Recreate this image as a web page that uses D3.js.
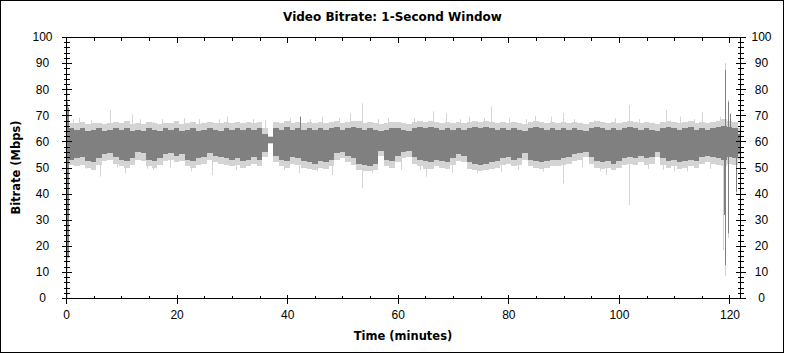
<!DOCTYPE html>
<html>
<head>
<meta charset="utf-8">
<script src="https://cdn.jsdelivr.net/npm/d3@7"></script>
<style>
  body { margin: 0; background: #fff; }
</style>
</head>
<body>
<svg id="chart" width="785" height="353"></svg>
<script>
// per-minute envelope of the 1-second bitrate trace (Mbps), index = minute
const darkHi = [66,65,64.5,65,64,64.5,65,64,64.5,65,64.5,65,64,64.5,64,65,64.5,64,65,64.5,
  65,64,64.5,65,64,64.5,65,64.5,64,65,64.5,65,64.5,65,64.5,65,63,61.5,65,64.5,
  65.5,64.5,65,64.5,65,64.5,65,64.5,65,65.5,64.5,65,65.5,65,64.5,65,64.5,64,64.5,65,
  65,64.5,64,65,65.5,65,65.5,65,64.5,65,64.5,65,64.5,65,65.5,65,65.5,65,64.5,65,
  64.5,65,64.5,64,65,65.5,65,64.5,65,64.5,65,64.5,65,64.5,64,65,65.5,65,64.5,65,
  64.5,65,65.5,65,64.5,65,64.5,64,65,65.5,65,64.5,65,65.5,64.5,65,64.5,65,65.5,66,
  65.5,65,63];
const darkLo = [55,53,53.5,54,52.5,52,53.5,55,55.5,54,53,52.5,53.5,56,55.5,53,52.5,53.5,55,55.5,
  54.5,55,53,52.5,53.5,54,55.5,54.5,54,53.5,53,53.5,52.5,53,54,53,56,59.5,54.5,53,
  52.5,54,53.5,52.5,52,51.5,52.5,52,53,55.5,56,54.5,53.5,51.5,51,50.5,51.5,56.5,53,52.5,
  54.5,56,56.5,54,53,52.5,52,53,52.5,52,53.5,55,54.5,52,51.5,51,51.5,52,52.5,53.5,
  54,53,53.5,55.5,53,52.5,52,52.5,53,53,53.5,54,55,55.5,56,54,52.5,52,52.5,51.5,
  52.5,53.5,54,53.5,54.5,53.5,54,56,53.5,52.5,53,52,52.5,53,52.5,54,54.5,54,53.5,53,
  54,53.5,55];
const lightHi = [69,67,67,67.5,66.5,67,67,66.5,67,67.5,67,68,66.5,67,66.5,67.5,67,66.5,67,67,
  68,66.5,67,67.5,66.5,67,67.5,67,67,67.5,67,67.5,67,67.5,67,67.5,65,62,67.5,67,
  68,67,67.5,67,67.5,67,67.5,67,67.5,68,67,67.5,68,68,67,67.5,67,66.5,67,67.5,
  67.5,67,66.5,67.5,68,67.5,68,67.5,67,67.5,67,67.5,67,67.5,68,67.5,68,67.5,67,67.5,
  67,67.5,67,66.5,67.5,68,67.5,67,67.5,67,67.5,67,67.5,67,66.5,67.5,68,67.5,67,67.5,
  67,67.5,68,67.5,67,67.5,67,66.5,67.5,68,67.5,67,67.5,68,67,67.5,67,67.5,68,68.5,
  68,67.5,65];
const lightLo = [52,51,50.5,51,50,49,51,52.5,53,51.5,50.5,50,51,53,52.5,50.5,50,51,52.5,53,
  52,52.5,50.5,50,51,51.5,53,52,51.5,51,50.5,51,50,50.5,51.5,50.5,54,59,52,50.5,
  50,51.5,51,50,49.5,49,50,49.5,50.5,53,53.5,52,51,49,48.5,48.5,49,54.5,50.5,50,
  52,53.5,54,51.5,50.5,49.5,49.5,50.5,50,49.5,51,52.5,52,49.5,49,48.5,49,49.5,50,51,
  51.5,50.5,51,53,50.5,50,49.5,50,50.5,50.5,51,51.5,52.5,53,54,51.5,50,49.5,50,49,
  50,51,51.5,51,52,51,51.5,54,51,50,50.5,49.5,50,50.5,50,51.5,52,51.5,51,50.5,
  51.5,51,53];
const minute = d3.range(darkHi.length);

// isolated 1-second excursions: [minute, low, high]
const lightSpikes = [
  [0.15,0,81],[1.3,56,68.5],[2.4,55,69],[3.7,49.5,62],[4.6,56,68],[6.1,46.5,62],[8.0,56,72],
  [9.2,50,62],[10.7,47.8,62],[11.9,56,70.3],[13.4,56,68.5],[14.6,49.5,62],[15.8,49,67.5],
  [17.3,56,68.5],[18.8,50,62],[21.3,56,69],[22.6,48.5,62],[24.1,56,68.5],[26.4,47.1,62],
  [27.6,56,68.5],[29.1,56,69.5],[30.7,49,62],[32.4,49.7,62],[33.8,56,68.5],[36.0,56,68.2],
  [39.4,49,62],[40.6,56,69],[42.1,47.8,62],[44.2,56,68.5],[45.4,48.5,62],[46.3,56,69.5],
  [48.1,47.1,62],[49.3,56,69],[51.4,56,70.7],[53.5,42,74.6],[55.3,48,62],[56.5,56,68.5],
  [58.2,56,69],[60.5,49.1,62],[62.9,56,69],[64.1,49,62],[65.2,46.5,62],[66.4,56,71.5],
  [68.7,56,70.7],[69.9,47.8,62],[71.2,56,68.5],[72.9,56,69.5],[74.4,48,62],[75.6,56,69],
  [76.8,56,73.3],[78.6,48.4,62],[80.1,56,69],[81.7,49,62],[83.2,56,68.5],[84.8,56,69.8],
  [86.3,48.5,62],[87.7,56,69.5],[89.8,43.9,70.8],[91.9,56,68.5],[93.4,50,62],[95.5,56,68],
  [96.6,48.5,62],[97.7,47.1,62],[99.3,56,69],[101.9,35.6,73.9],[103.7,56,68.5],[105.2,49.5,62],
  [107.9,49,62],[108.5,56,72],[110.0,48.5,62],[111.1,56,69.5],[112.4,48.5,62],[113.6,56,68.5],
  [115.0,56,71.2],[116.4,49.5,62],[118.2,56,69.5],
  [118.9,18.4,66],[119.2,8.4,90],[119.8,23,76],[121.2,40,66]
];
const darkSpikes = [
  [0.1,15.5,75],[0.3,15.5,73],[42.4,55,69.5],[118.95,31.8,64],[119.2,12.6,87.4],
  [119.8,24.8,75.2],[120.1,55,70.6],[121.2,40.7,64]
];

const yMajor = d3.range(0, 101, 10);
const yMinor = d3.range(0, 101, 2).filter(v => v % 10 !== 0);
const xMajor = [0, 20, 40, 60, 80, 100, 120];
const xMinor = d3.range(0, 121, 5).filter(v => v % 20 !== 0);

const svg = d3.select('#chart');
const margin = {left: 66, right: 45, top: 37, bottom: 55};
const W = 785, H = 353;
const FONT = 'Arial, "Liberation Sans", sans-serif';
const TITLE_FONT = '"DejaVu Sans", Verdana, sans-serif';

svg.append('rect')
  .attr('x', 0.5).attr('y', 0.5)
  .attr('width', W - 2).attr('height', H - 1)
  .attr('fill', '#fff').attr('stroke', '#000');

const x = d3.scaleLinear().domain([0, 121.9]).range([margin.left, W - margin.right]);
const y = d3.scaleLinear().domain([0, 100]).range([H - margin.bottom, margin.top]);

const plot = svg.append('g').attr('class', 'trace');

const lightArea = d3.area()
  .curve(d3.curveStep)
  .x((d, i) => x(minute[i]))
  .y0((d, i) => y(lightLo[i]))
  .y1((d, i) => y(lightHi[i]));
const darkArea = d3.area()
  .curve(d3.curveStep)
  .x((d, i) => x(minute[i]))
  .y0((d, i) => y(darkLo[i]))
  .y1((d, i) => y(darkHi[i]));

plot.append('path').datum(minute).attr('d', lightArea).attr('fill', '#d4d4d4')
  .attr('shape-rendering', 'crispEdges');

plot.selectAll('line.ls').data(lightSpikes).join('line')
  .attr('class', 'ls')
  .attr('x1', d => Math.round(x(d[0])) + 0.5).attr('x2', d => Math.round(x(d[0])) + 0.5)
  .attr('y1', d => y(d[1])).attr('y2', d => y(d[2]))
  .attr('stroke', '#d4d4d4').attr('stroke-width', 1);

plot.append('path').datum(minute).attr('d', darkArea).attr('fill', '#808080')
  .attr('shape-rendering', 'crispEdges');

plot.selectAll('line.ds').data(darkSpikes).join('line')
  .attr('class', 'ds')
  .attr('x1', d => Math.round(x(d[0])) + 0.5).attr('x2', d => Math.round(x(d[0])) + 0.5)
  .attr('y1', d => y(d[1])).attr('y2', d => y(d[2]))
  .attr('stroke', '#808080').attr('stroke-width', 1);

// axes
const axes = svg.append('g').attr('class', 'axis')
  .attr('shape-rendering', 'crispEdges');

function crossTicks(g, a, b, horizontal) {
  g.select('.domain').remove();
  g.selectAll('.tick line')
    .attr(horizontal ? 'y1' : 'x1', a)
    .attr(horizontal ? 'y2' : 'x2', b)
    .attr('stroke', '#000');
}

function labelStyle(g) {
  g.selectAll('.tick text')
    .attr('font-size', 12).attr('font-family', FONT).attr('fill', '#000');
}

// left
const axLeft = axes.append('g').attr('transform', `translate(${margin.left + 0.5},0)`);
axLeft.append('g').call(d3.axisLeft(y).tickValues(yMinor).tickFormat('').tickSize(3))
  .call(g => crossTicks(g, -3, 3, false));
axLeft.append('g').call(d3.axisLeft(y).tickValues(yMajor).tickSize(5))
  .call(g => crossTicks(g, -5, 5, false))
  .call(labelStyle)
  .call(g => g.selectAll('.tick text').attr('x', -24).attr('text-anchor', 'middle'));

// right
const axRight = axes.append('g').attr('transform', `translate(${W - margin.right + 0.5},0)`);
axRight.append('g').call(d3.axisRight(y).tickValues(yMinor).tickFormat('').tickSize(3))
  .call(g => crossTicks(g, -3, 3, false));
axRight.append('g').call(d3.axisRight(y).tickValues(yMajor).tickSize(5))
  .call(g => crossTicks(g, -5, 5, false))
  .call(labelStyle)
  .call(g => g.selectAll('.tick text').attr('x', 21).attr('text-anchor', 'middle'));

// bottom
const axBottom = axes.append('g').attr('transform', `translate(0,${H - margin.bottom + 0.5})`);
axBottom.append('g').call(d3.axisBottom(x).tickValues(xMinor).tickFormat('').tickSize(3))
  .call(g => crossTicks(g, -3, 0, true));
axBottom.append('g').call(d3.axisBottom(x).tickValues(xMajor).tickSize(5))
  .call(g => crossTicks(g, -4, 5, true))
  .call(labelStyle)
  .call(g => g.selectAll('.tick text').attr('y', 12));

// top
const axTop = axes.append('g').attr('transform', `translate(0,${margin.top + 0.5})`);
axTop.append('g').call(d3.axisTop(x).tickValues(xMinor).tickFormat('').tickSize(3))
  .call(g => crossTicks(g, 0, 3, true));
axTop.append('g').call(d3.axisTop(x).tickValues(xMajor).tickFormat('').tickSize(5))
  .call(g => crossTicks(g, 0, 5, true));

// frame lines
axes.append('rect')
  .attr('x', margin.left + 0.5).attr('y', margin.top + 0.5)
  .attr('width', W - margin.right - margin.left).attr('height', H - margin.bottom - margin.top)
  .attr('fill', 'none').attr('stroke', '#000');

// titles
svg.append('text')
  .attr('x', W / 2).attr('y', 21)
  .attr('text-anchor', 'middle').attr('font-size', 12).attr('font-weight', 'bold')
  .attr('font-family', TITLE_FONT)
  .text('Video Bitrate: 1-Second Window');

svg.append('text')
  .attr('x', (margin.left + W - margin.right) / 2).attr('y', 340)
  .attr('text-anchor', 'middle').attr('font-size', 11.5).attr('font-weight', 'bold')
  .attr('font-family', TITLE_FONT)
  .text('Time (minutes)');

svg.append('text')
  .attr('transform', `translate(20,${(margin.top + H - margin.bottom) / 2}) rotate(-90)`)
  .attr('text-anchor', 'middle').attr('font-size', 11.5).attr('font-weight', 'bold')
  .attr('font-family', TITLE_FONT)
  .text('Bitrate (Mbps)');
</script>
</body>
</html>
